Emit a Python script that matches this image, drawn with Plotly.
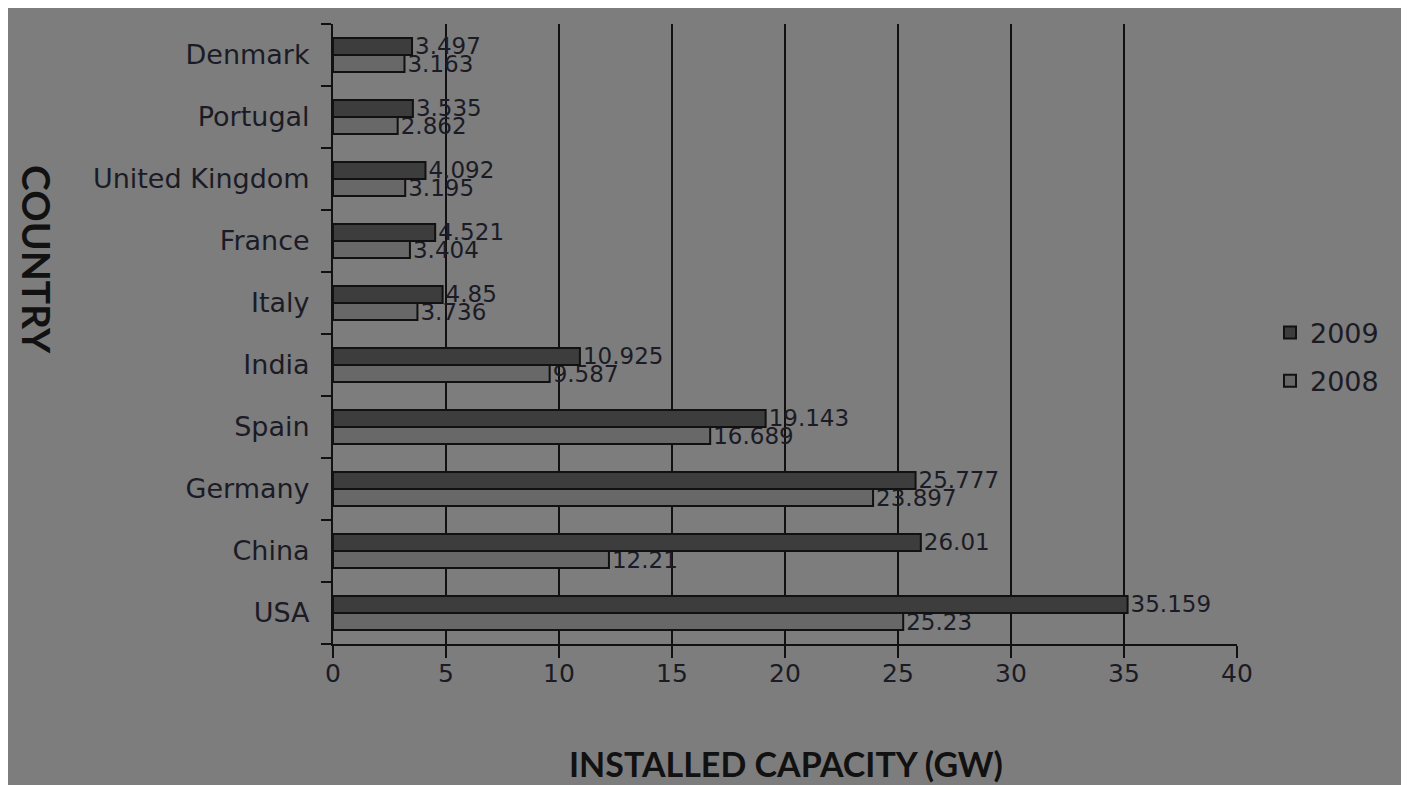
import plotly.graph_objects as go

# Data (listed bottom to top as drawn on the category axis)
countries = ["USA", "China", "Germany", "Spain", "India", "Italy", "France",
             "United Kingdom", "Portugal", "Denmark"]
cap_2009 = [35.159, 26.01, 25.777, 19.143, 10.925, 4.85, 4.521, 4.092, 3.535, 3.497]
cap_2008 = [25.23, 12.21, 23.897, 16.689, 9.587, 3.736, 3.404, 3.195, 2.862, 3.163]
x_ticks = [0, 5, 10, 15, 20, 25, 30, 35, 40]

TXT = "#1b1b26"
BG = "#7d7d7d"

# page offset of the figure (browser body margin)
OFF = 8
PL, PR, PT, PB = 333 - OFF, 1237 - OFF, 24 - OFF, 644 - OFF
W, H = 1394, 777
PW, PH = PR - PL, PB - PT


def px(xpage):
    return (xpage - OFF - PL) / PW


def py(ypage):
    return (PB - (ypage - OFF)) / PH


fig = go.Figure()
fig.add_trace(go.Bar(
    y=countries, x=cap_2008, name="2008", orientation="h",
    marker=dict(color="#686868", line=dict(color="#111111", width=2)),
    text=[str(v) for v in cap_2008], textposition="outside",
    constraintext="none", cliponaxis=False,
    textfont=dict(family="DejaVu Sans", size=23, color=TXT),
    legendgroup="b", legendrank=2,
))
fig.add_trace(go.Bar(
    y=countries, x=cap_2009, name="2009", orientation="h",
    marker=dict(color="#3d3d3d", line=dict(color="#111111", width=2)),
    text=[str(v) for v in cap_2009], textposition="outside",
    constraintext="none", cliponaxis=False,
    textfont=dict(family="DejaVu Sans", size=23, color=TXT),
    legendgroup="a", legendrank=1,
))

fig.update_layout(
    width=W, height=H,
    margin=dict(l=PL, r=W - PR, t=PT, b=H - PB),
    paper_bgcolor=BG,
    plot_bgcolor=BG,
    barmode="group", bargap=0.45, bargroupgap=0,
    showlegend=True,
    legend=dict(x=px(1270), y=py(357), xanchor="left", yanchor="middle",
                traceorder="grouped", tracegroupgap=10,
                bgcolor="rgba(0,0,0,0)",
                font=dict(family="DejaVu Sans", size=27, color=TXT),
                itemwidth=30),
    xaxis=dict(range=[0, 40], tickvals=x_ticks, showgrid=True,
               gridcolor="#111111", gridwidth=2, zeroline=False,
               showline=True, linecolor="#111111", linewidth=2,
               ticks="outside", ticklen=12, tickwidth=2, tickcolor="#111111",
               ticklabelstandoff=-6,
               tickfont=dict(family="DejaVu Sans", size=25, color=TXT)),
    yaxis=dict(showgrid=False, zeroline=False, showline=True,
               linecolor="#111111", linewidth=2,
               ticks="outside", tickson="boundaries", ticklen=10, tickwidth=2,
               tickcolor="#111111", ticklabelstandoff=16,
               tickfont=dict(family="DejaVu Sans", size=27, color=TXT)),
    annotations=[
        dict(text="<b>INSTALLED CAPACITY (GW)</b>", xref="paper", yref="paper",
             x=px(786), y=py(763), xanchor="center", yanchor="middle",
             showarrow=False, font=dict(family="Lato", size=34, color="#111111")),
        dict(text="<b>COUNTRY</b>", xref="paper", yref="paper",
             x=px(37), y=py(259), xanchor="center", yanchor="middle",
             textangle=90, showarrow=False,
             font=dict(family="Lato", size=39, color="#111111")),
    ],
)

fig.write_html("out.html")
